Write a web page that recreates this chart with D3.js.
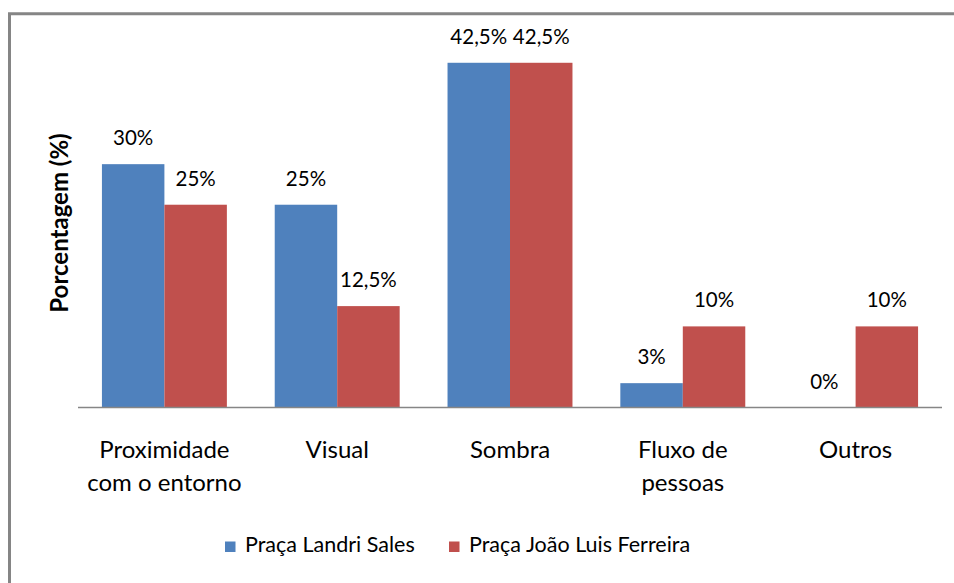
<!DOCTYPE html>
<html>
<head>
<meta charset="utf-8">
<script src="https://cdn.jsdelivr.net/npm/d3@7"></script>
<style>
  html, body { margin: 0; padding: 0; background: #fff; }
  svg { display: block; }
  text { font-family: Lato, "Open Sans", sans-serif; fill: #000; }
</style>
</head>
<body>
<svg id="chart" width="954" height="583"></svg>
<script>
const categories = ["Proximidade\ncom o entorno", "Visual", "Sombra", "Fluxo de\npessoas", "Outros"];
const series = ["Praça Landri Sales", "Praça João Luis Ferreira"];
const landriSales = [30, 25, 42.5, 3, 0];
const joaoLuis = [25, 12.5, 42.5, 10, 10];
const colors = ["#4f81bd", "#c0504d"];
const yTitle = "Porcentagem (%)";

const W = 954, H = 583;
const svg = d3.select("#chart");

svg.append("rect").attr("width", W).attr("height", H).attr("fill", "#fff");

// outer frame (only the left and top edges are inside the picture)
svg.append("path")
  .attr("d", `M 9.5,${H} L 9.5,13.8 L ${W},13.8`)
  .attr("fill", "none")
  .attr("stroke", "#858585")
  .attr("stroke-width", 3);

const x0 = d3.scaleBand().domain(categories).range([78, 942]).padding(0);
const x1 = d3.scaleBand().domain(series).range([0, x0.bandwidth()]).paddingInner(0).paddingOuter(0.383);
const y = d3.scaleLinear().domain([0, 45]).range([407.5, 42.5]);

const fmt = v => String(v).replace(".", ",") + "%";

const rows = categories.map((c, i) => ({ cat: c, vals: [landriSales[i], joaoLuis[i]] }));

const groups = svg.selectAll(".grp")
  .data(rows)
  .enter()
  .append("g")
  .attr("class", "grp")
  .attr("transform", d => `translate(${x0(d.cat)},0)`);

groups.selectAll("rect")
  .data(d => d.vals.map((v, j) => ({ s: series[j], v: v, j: j })))
  .enter()
  .append("rect")
  .attr("x", d => x1(d.s))
  .attr("width", x1.bandwidth())
  .attr("y", d => y(d.v))
  .attr("height", d => y(0) - y(d.v))
  .attr("fill", d => colors[d.j]);

groups.selectAll(".lbl")
  .data(d => d.vals.map((v, j) => ({ s: series[j], v: v, j: j })))
  .enter()
  .append("text")
  .attr("class", "lbl")
  .attr("x", d => x1(d.s) + x1.bandwidth() / 2)
  .attr("y", d => y(d.v) - 19)
  .attr("text-anchor", "middle")
  .attr("font-size", 20.5)
  .text(d => fmt(d.v));

// category axis line
svg.append("line")
  .attr("x1", x0.range()[0]).attr("x2", x0.range()[1])
  .attr("y1", y(0)).attr("y2", y(0))
  .attr("stroke", "#868686")
  .attr("stroke-width", 1.3);

const catLabels = svg.selectAll(".cat")
  .data(categories)
  .enter()
  .append("text")
  .attr("class", "cat")
  .attr("text-anchor", "middle")
  .attr("font-size", 24)
  .attr("transform", d => `translate(${x0(d) + x0.bandwidth() / 2},458)`);

catLabels.selectAll("tspan")
  .data(d => d.split("\n"))
  .enter()
  .append("tspan")
  .attr("x", 0)
  .attr("y", (d, i) => i * 32.5)
  .text(d => d);

// y axis title
svg.append("text")
  .attr("transform", "translate(68,223) rotate(-90)")
  .attr("text-anchor", "middle")
  .attr("font-size", 24)
  .attr("font-weight", "bold")
  .text(yTitle);

// legend
const legendX = [225, 449];
const legend = svg.selectAll(".leg")
  .data(series)
  .enter()
  .append("g")
  .attr("class", "leg")
  .attr("transform", (d, i) => `translate(${legendX[i]},541.5)`);

legend.append("rect")
  .attr("width", 10.5)
  .attr("height", 10.5)
  .attr("fill", (d, i) => colors[i]);

legend.append("text")
  .attr("x", 20)
  .attr("y", 10.5)
  .attr("font-size", 21.5)
  .text(d => d);
</script>
</body>
</html>
